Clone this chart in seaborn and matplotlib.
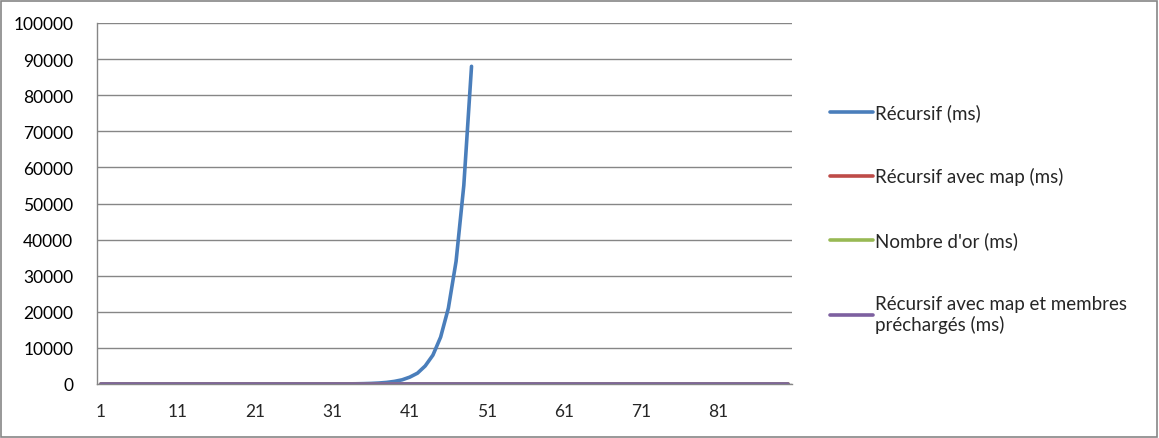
import numpy as np
import pandas as pd
import matplotlib
matplotlib.use("Agg")
import matplotlib.pyplot as plt
import seaborn as sns
from matplotlib.patches import Rectangle

# ---- data ----
n_values = list(range(1, 91))
recursif_ms = [0, 0, 0, 0, 0, 0, 0, 0, 0, 0,
               0, 0, 0, 0, 0, 0, 0, 0, 0, 0,
               0, 0, 0, 0, 1, 1, 2, 3, 5, 8,
               14, 23, 38, 62, 100, 165, 270, 440, 720, 1150,
               1900, 3000, 5000, 8000, 13000, 21000, 34000, 55000, 88000]
recursif_map_ms = [0] * 90
nombre_or_ms = [0] * 90
recursif_map_precharges_ms = [0] * 90
series_names = ["Récursif (ms)", "Récursif avec map (ms)", "Nombre d'or (ms)",
                "Récursif avec map et membres\npréchargés (ms)"]
y_ticks = list(range(0, 100001, 10000))
x_labels = [1, 11, 21, 31, 41, 51, 61, 71, 81]

colors = ["#4A7EBB", "#BE4B48", "#98B954", "#7D60A0"]

rows = []
for name, vals in zip(series_names, [recursif_ms, recursif_map_ms, nombre_or_ms, recursif_map_precharges_ms]):
    for n, v in zip(n_values, vals):
        rows.append({"n": n, "ms": v, "serie": name})
df = pd.DataFrame(rows)

sns.set_style("white")
plt.rcParams['font.family'] = ['Lato', 'DejaVu Sans']

fig = plt.figure(figsize=(11.59, 4.39), dpi=100)
ax = fig.add_axes([97 / 1159, 1 - 385 / 439, (792 - 97) / 1159, (385 - 24) / 439])

sns.lineplot(data=df, x="n", y="ms", hue="serie", hue_order=series_names,
             palette=colors, linewidth=2.6, ax=ax, legend=True, sort=True)

ax.set_xlim(0.5, 90.5)
ax.set_ylim(0, 100000)
ax.set_xlabel("")
ax.set_ylabel("")

grid_c = "#868686"
tick_fs = 12.5
ax.set_yticks(y_ticks)
ax.set_yticklabels([str(v) for v in y_ticks], fontsize=tick_fs, color="#000000")
ax.yaxis.grid(True, color=grid_c, linewidth=1)
ax.set_axisbelow(True)

# category axis: tick marks between categories, labels centred on categories
ax.set_xticks([0.5 + 10 * i for i in range(10)])
ax.set_xticklabels([])
ax.set_xticks(x_labels, minor=True)
ax.set_xticklabels([str(v) for v in x_labels], minor=True, fontsize=tick_fs)
ax.tick_params(axis="x", which="major", length=5, width=1, color=grid_c, direction="out")
ax.tick_params(axis="x", which="minor", length=0, pad=14)
ax.tick_params(axis="y", which="major", length=5, width=1, color=grid_c, direction="out", pad=12)

for s in ["top", "right"]:
    ax.spines[s].set_visible(False)
for s in ["left", "bottom"]:
    ax.spines[s].set_color(grid_c)
    ax.spines[s].set_linewidth(1)

# legend on the right
handles, labels = ax.get_legend_handles_labels()
ax.legend_.remove()
leg = fig.legend(handles, labels, loc="upper left", bbox_to_anchor=(823 / 1159, 1 - 97 / 439),
                 frameon=False, fontsize=13.5, handlelength=2.25, handletextpad=0.1,
                 labelspacing=2.45, borderaxespad=0)
for line in leg.get_lines():
    line.set_linewidth(2.6)

fig.patches.append(Rectangle((1 / 1159, 1 / 439), 1 - 3 / 1159, 1 - 3 / 439,
                             transform=fig.transFigure, fill=False,
                             edgecolor="#868686", linewidth=1.2))

fig.savefig("out.png", dpi=100)
